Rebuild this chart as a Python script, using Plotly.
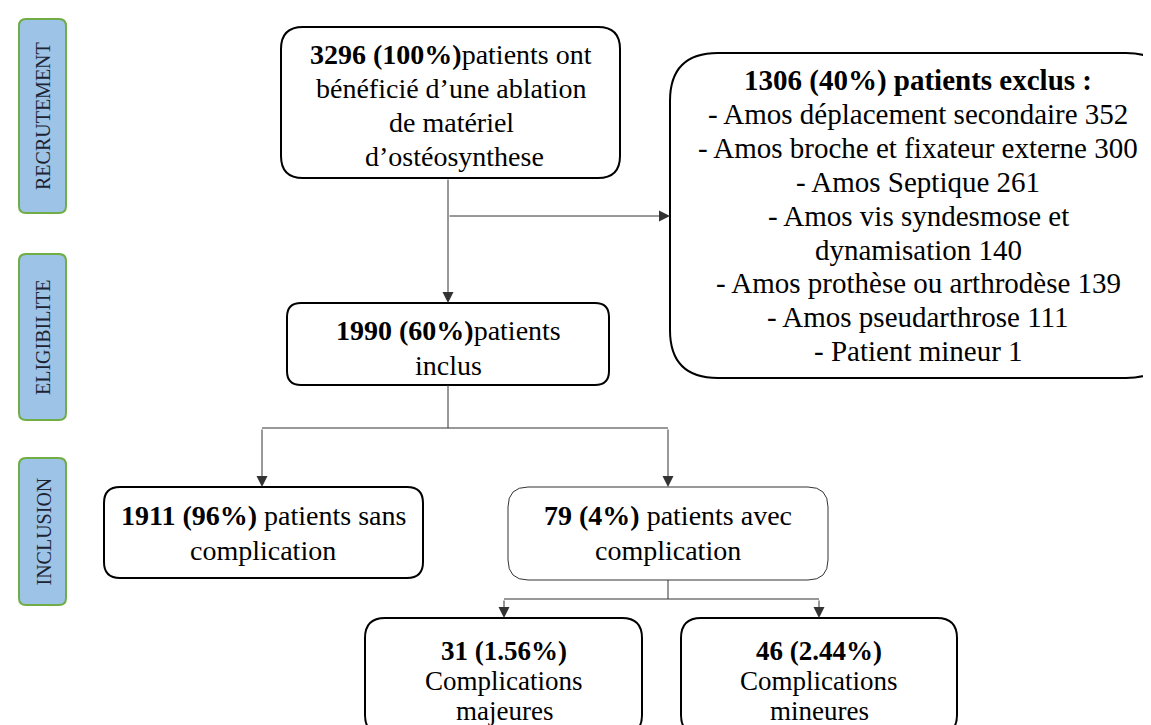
import plotly.graph_objects as go

W, H = 1151, 725
FONT = "Liberation Serif"

# stage labels on the left
stage_names = ["RECRUTEMENT", "ELIGIBILITE", "INCLUSION"]
stage_spans = [(11, 205), (246, 412), (450, 597)]

# box contents
top_lines = ["<b>3296 (100%)</b>patients ont", "bénéficié d’une ablation", "de matériel", " d’ostéosynthese"]
excl_lines = ["<b>1306 (40%) patients exclus :</b>",
              "- Amos déplacement secondaire 352",
              "- Amos broche et fixateur externe 300",
              "- Amos Septique 261",
              "- Amos vis syndesmose et",
              "dynamisation 140",
              "- Amos prothèse ou arthrodèse 139",
              "- Amos pseudarthrose 111",
              "- Patient mineur 1"]
incl_lines = ["<b>1990 (60%)</b>patients", "inclus"]
sans_lines = ["<b>1911 (96%)</b> patients sans", "complication"]
avec_lines = ["<b>79 (4%)</b> patients avec", "complication"]
maj_lines = ["<b>31 (1.56%)</b>", "Complications", "majeures"]
min_lines = ["<b>46 (2.44%)</b>", "Complications", "mineures"]

# box geometry: x0, y0, x1, y1, radius, line width, text centre x, first text line y, line step, font size
boxes = [
    (top_lines, (273, 19, 612, 170, 22, 2, 443, 46, 34, 28)),
    (excl_lines, (662, 45, 1166, 370, 48, 2, 910, 72, 33.9, 29)),
    (incl_lines, (279, 295, 601, 377, 14, 2, 440, 322, 35, 28)),
    (sans_lines, (96, 479, 415, 570, 16, 2, 255, 507, 35, 28)),
    (avec_lines, (500, 479, 820, 572, 20, 1, 660, 507, 35, 28)),
    (maj_lines, (357, 610, 634, 727, 20, 2, 496, 643, 30, 27)),
    (min_lines, (673, 610, 949, 727, 20, 2, 811, 643, 30, 27)),
]


def rrect(x0, y0, x1, y1, r):
    return (f"M{x0 + r},{y0} L{x1 - r},{y0} Q{x1},{y0} {x1},{y0 + r} "
            f"L{x1},{y1 - r} Q{x1},{y1} {x1 - r},{y1} L{x0 + r},{y1} "
            f"Q{x0},{y1} {x0},{y1 - r} L{x0},{y0 + r} Q{x0},{y0} {x0 + r},{y0} Z")


fig = go.Figure()
shapes = []
annotations = []

# stage labels
for name, (y0, y1) in zip(stage_names, stage_spans):
    shapes.append(dict(type="path", path=rrect(11, y0, 58, y1, 7), xref="x", yref="y",
                       fillcolor="#9dc3e6", line=dict(color="#70ad47", width=2)))
    annotations.append(dict(x=35, y=(y0 + y1) / 2, xref="x", yref="y", text=name, showarrow=False,
                            textangle=-90, font=dict(family=FONT, size=20, color="#1c2333"),
                            xanchor="center", yanchor="middle"))

# boxes and their text
for lines, (x0, y0, x1, y1, r, lw, cx, ty, step, fs) in boxes:
    shapes.append(dict(type="path", path=rrect(x0, y0, x1, y1, r), xref="x", yref="y",
                       fillcolor="white", line=dict(color="black" if lw > 1 else "#333333", width=lw)))
    for i, t in enumerate(lines):
        annotations.append(dict(x=cx, y=ty + i * step, xref="x", yref="y", text=t, showarrow=False,
                                font=dict(family=FONT, size=fs, color="black"),
                                xanchor="center", yanchor="middle"))

# plain connector lines
plain = [((440, 377), (440, 420)), ((254, 420), (660, 420)),
         ((660, 572), (660, 591)), ((496, 591), (811, 591))]
for (xa, ya), (xb, yb) in plain:
    shapes.append(dict(type="line", x0=xa, y0=ya, x1=xb, y1=yb, xref="x", yref="y",
                       line=dict(color="#333333", width=1)))

# arrows (tail -> tip)
arrows = [((440, 170), (440, 295)), ((440, 208), (662, 208)),
          ((254, 420), (254, 479)), ((660, 420), (660, 479)),
          ((496, 591), (496, 610)), ((811, 591), (811, 610))]
for (xa, ya), (xb, yb) in arrows:
    annotations.append(dict(x=xb, y=yb, ax=xa, ay=ya, xref="x", yref="y", axref="x", ayref="y",
                            text="", showarrow=True, arrowhead=2, arrowsize=2.2, arrowwidth=1,
                            arrowcolor="#333333", standoff=0))

fig.update_layout(
    width=W, height=H, margin=dict(l=0, r=0, t=0, b=0),
    paper_bgcolor="white", plot_bgcolor="white",
    xaxis=dict(range=[0, W], visible=False, fixedrange=True),
    yaxis=dict(range=[H, 0], visible=False, fixedrange=True),
    shapes=shapes, annotations=annotations, showlegend=False,
)

fig.write_html("out.html")
